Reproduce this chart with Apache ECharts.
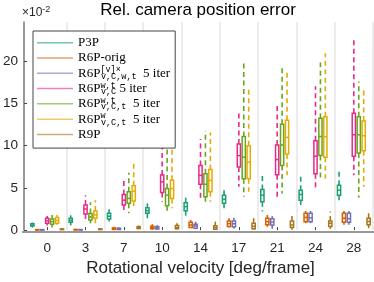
<!DOCTYPE html>
<html><head><meta charset="utf-8">
<script src="https://cdn.jsdelivr.net/npm/echarts@6/dist/echarts.min.js"></script>
<style>html,body{margin:0;padding:0;background:#fff}#c{width:374px;height:282px}</style>
</head><body><div id="c"></div>
<script>
// categories (rotational velocity, deg/frame)
const categories = ['0','3','7','10','14','17','21','24','28'];
const yTicks = [0, 5, 10, 15, 20];
// each entry: [min, q1, median, q3, max]  (units of 1e-2)
const p3p = [
  [0.3,0.47,0.6,0.74,0.9],[0.55,0.94,1.15,1.4,1.75],[1.02,1.32,1.64,1.99,2.46],
  [1.4,1.99,2.3,2.65,3.16],[1.4,2.3,2.77,3.24,4.13],[2.26,3.16,3.63,4.13,4.91],
  [2.19,3.36,4.13,4.8,6.4],[2.96,3.54,4.21,4.72,6.47],[3.4,4.13,4.72,5.3,7.05]];
const r6pOrig = [
  [0.0,0.02,0.04,0.06,0.1],[0.0,0.03,0.05,0.08,0.12],[0.02,0.08,0.15,0.25,0.4],
  [0.05,0.15,0.3,0.45,0.7],[0.23,0.31,0.6,0.94,1.2],[0.31,0.43,0.75,1.09,1.4],
  [0.39,0.62,1.0,1.4,1.79],[0.82,1.0,1.5,1.99,2.26],[0.62,0.94,1.4,1.99,2.26]];
const r6pVx = [
  [0.0,0.02,0.04,0.06,0.1],[0.0,0.02,0.04,0.07,0.1],[0.02,0.07,0.14,0.22,0.35],
  [0.05,0.12,0.25,0.4,0.6],[0.1,0.23,0.5,0.7,1.0],[0.2,0.4,0.75,1.09,1.45],
  [0.15,0.6,0.95,1.35,1.65],[0.82,1.0,1.45,1.99,2.26],[0.62,0.94,1.35,1.99,2.26]];
const r6pWtVC = [
  [0.55,0.82,1.1,1.4,1.67],[1.1,1.91,2.49,2.96,4.13],[2.19,2.96,3.54,4.21,5.88],
  [3.36,4.44,5.7,6.5,11.7],[3.74,5.42,6.47,7.64,10.76],[5.11,7.45,8.81,10.18,13.88],
  [3.74,6.55,8.34,10.06,14.85],[4.72,6.67,8.73,10.56,17.0],[6.47,8.73,11.27,13.8,22.46]];
const r6pWtVCt = [
  [0.31,0.7,1.0,1.32,1.79],[0.8,1.2,1.55,1.95,3.3],[1.99,3.16,3.74,4.52,6.78],
  [1.99,2.89,4.13,4.91,12.5],[2.96,3.94,5.42,6.67,11.73],[3.94,6.08,8.62,11.07,19.73],
  [4.33,7.64,10.06,12.51,19.53],[5.88,8.81,11.07,13.22,19.8],[3.83,9.12,11.27,13.41,17.58]];
const r6pWVCt = [
  [0.63,0.82,1.15,1.49,1.79],[0.62,1.4,1.8,2.26,3.54],[2.65,3.43,4.6,5.23,8.03],
  [2.57,3.74,4.91,5.88,13.6],[3.36,4.52,5.88,7.17,11.54],[4.52,6.08,8.03,9.98,16.79],
  [6.47,9.0,10.96,12.98,18.75],[6.08,8.62,11.03,13.41,20.9],[5.11,9.39,11.15,12.9,16.6]];
const r9p = [
  [0.02,0.06,0.1,0.14,0.2],[0.02,0.06,0.1,0.14,0.2],[0.1,0.18,0.3,0.4,0.55],
  [0.1,0.15,0.3,0.55,0.82],[0.04,0.1,0.3,0.5,1.0],[0.04,0.15,0.45,0.82,1.67],
  [0.04,0.31,0.6,1.09,1.79],[0.15,0.43,0.8,1.09,2.19],[0.23,0.62,1.02,1.4,2.19]];

const seriesNames = ['P3P','R6P-orig','R6P[v]x v,C,w,t 5 iter','R6P w,t v,C 5 iter','R6P w,t v,C,t 5 iter','R6P w v,C,t 5 iter','R9P'];
const legendLabels = ['P3P','R6P-orig',
  'R6P{sup|[v]×}{sub|v,C,w,t}  5 iter',
  'R6P{sup|w,t}{sub|v,C} 5 iter',
  'R6P{sup|w,t}{sub|v,C,t}  5 iter',
  'R6P{sup|w}{sub|v,C,t}  5 iter',
  'R9P'];
const seriesData = [p3p, r6pOrig, r6pVx, r6pWtVC, r6pWtVCt, r6pWVCt, r9p];
const colors = ['#1b9e77','#d95f02','#7570b3','#e7298a','#66a61e','#e6ab02','#a6761d'];

function makeRender(k) {
  return function (params, api) {
    const ci = api.value(0);
    const band = api.size([1, 0])[0];
    const step = band * 0.1286;
    const hw = band * 0.042;
    const x = api.coord([ci, 0])[0] + (k - 3) * step;
    const Y = (d) => api.coord([ci, api.value(d)])[1];
    const yMin = Y(1), yQ1 = Y(2), yMed = Y(3), yQ3 = Y(4), yMax = Y(5);
    const c = api.visual('color');
    const ws = {stroke: c, lineWidth: 1.6, lineDash: [5, 3.5]};
    return {type: 'group', children: [
      {type: 'line', shape: {x1: x, y1: yQ3, x2: x, y2: yMax}, style: ws},
      {type: 'line', shape: {x1: x, y1: yQ1, x2: x, y2: yMin}, style: ws},
      {type: 'rect', shape: {x: x - hw, y: yQ3, width: 2 * hw, height: Math.max(yQ1 - yQ3, 0.5)},
        style: {fill: '#fff', stroke: c, lineWidth: 1.5}},
      {type: 'line', shape: {x1: x - hw, y1: yMed, x2: x + hw, y2: yMed}, style: {stroke: c, lineWidth: 1.5}}
    ]};
  };
}

const series = seriesData.map((arr, k) => ({
  type: 'custom', name: seriesNames[k], xAxisIndex: 0, yAxisIndex: 0,
  itemStyle: {color: colors[k]},
  renderItem: makeRender(k),
  encode: {x: 0, y: [1, 2, 3, 4, 5]},
  data: arr.map((v, i) => [categories[i]].concat(v)),
  z: 3
}));

const labelMap = {};
seriesNames.forEach((n, i) => labelMap[n] = legendLabels[i]);

const chart = echarts.init(document.getElementById('c'), null, {renderer: 'canvas'});
chart.setOption({
  animation: false,
  backgroundColor: '#fff',
  title: [
    {text: 'Rel. camera position error', left: 198, textAlign: 'center', top: 2, padding: 0,
     textStyle: {fontFamily: 'Liberation Sans', fontSize: 17, fontWeight: 'normal', color: '#000'}},
    {text: '×10{s|-2}', left: 22, top: 5, padding: 0,
     textStyle: {fontFamily: 'Liberation Sans', fontSize: 12, fontWeight: 'normal', color: '#262626', lineHeight: 15,
       rich: {s: {fontFamily: 'Liberation Sans', fontSize: 9, lineHeight: 4, verticalAlign: 'top', color: '#262626'}}}}
  ],
  legend: {
    orient: 'vertical', left: 33, top: 31,
    data: seriesNames.map((n, i) => ({name: n, icon: 'rect', itemStyle: {color: colors[i], opacity: 0.6}})),
    itemWidth: 36, itemHeight: 1.5, itemGap: 0, itemTextGap: 4,
    padding: [4, 5, 6, 4],
    borderColor: '#444', borderWidth: 1, backgroundColor: '#fff',
    selectedMode: false,
    formatter: (n) => labelMap[n],
    textStyle: {fontFamily: 'Liberation Serif', fontSize: 13, lineHeight: 15.3, color: '#000',
      rich: {
        sup: {fontFamily: 'Liberation Mono', fontSize: 8.5, lineHeight: 3.6, verticalAlign: 'top', width: 0.5, color: '#000'},
        sub: {fontFamily: 'Liberation Mono', fontSize: 8.5, lineHeight: 6, verticalAlign: 'bottom', color: '#000'}
      }}
  },
  grid: [
    {left: 26.5, right: 1, top: 22, bottom: 50},
    {left: 22.5, right: 0, top: 22, bottom: 50}
  ],
  xAxis: [
    {type: 'category', data: categories, gridIndex: 0, boundaryGap: true,
     axisLine: {show: false},
     axisTick: {show: true, inside: true, alignWithLabel: true, length: 3, lineStyle: {color: '#444'}},
     axisLabel: {fontFamily: 'Liberation Sans', fontSize: 13.5, color: '#262626', margin: 11},
     splitLine: {show: true, interval: (i) => i > 0, lineStyle: {color: '#e6e6e6', width: 1.5}},
     name: 'Rotational velocity [deg/frame]', nameLocation: 'middle', nameGap: 29,
     nameTextStyle: {fontFamily: 'Liberation Sans', fontSize: 17, color: '#262626'}},
    {type: 'value', gridIndex: 1, min: 0, max: 1, show: true,
     axisLine: {show: true, lineStyle: {color: '#777', width: 1.5}},
     axisTick: {show: false}, axisLabel: {show: false}, splitLine: {show: false}}
  ],
  yAxis: [
    {type: 'value', gridIndex: 0, min: 0, max: 24.6, interval: 5, offset: 4,
     axisLine: {show: true, lineStyle: {color: '#777', width: 1.5}},
     axisTick: {show: true, inside: true, length: 3, customValues: yTicks, lineStyle: {color: '#444'}},
     axisLabel: {customValues: yTicks, fontFamily: 'Liberation Sans', fontSize: 13.5, color: '#262626', margin: 6},
     splitLine: {show: false}},
    {type: 'value', gridIndex: 1, min: 0, max: 1, show: false}
  ],
  series: series
});
</script>
</body></html>
